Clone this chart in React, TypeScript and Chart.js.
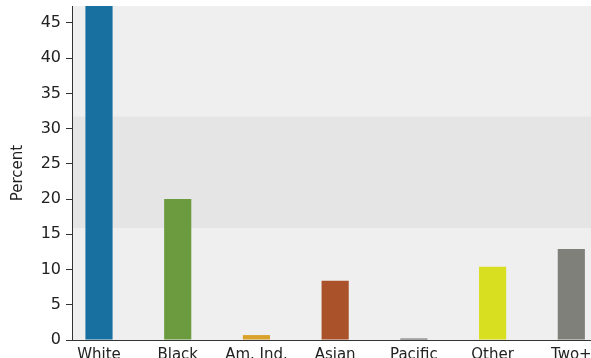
import React, { useEffect, useRef } from "react";
import { Chart, registerables } from "chart.js";

Chart.register(...registerables);

const categories = ["White", "Black", "Am. Ind.", "Asian", "Pacific", "Other", "Two+"];
const percentValues = [47.5, 20.0, 0.7, 8.4, 0.2, 10.4, 12.9];
const barColors = ["#17709f", "#6b9a3f", "#d9a22b", "#aa522a", "#555555", "#d8df20", "#80807a"];
const yTicks = [0, 5, 10, 15, 20, 25, 30, 35, 40, 45];
const bandRange = [15.9, 31.7];

const bgPlugin = {
  id: "bgBand",
  beforeDraw(chart: any) {
    const { ctx, chartArea, scales } = chart;
    if (!chartArea) return;
    ctx.save();
    ctx.fillStyle = "#efefef";
    ctx.fillRect(chartArea.left, chartArea.top, chartArea.right - chartArea.left, chartArea.bottom - chartArea.top);
    const y1 = scales.y.getPixelForValue(bandRange[1]);
    const y0 = scales.y.getPixelForValue(bandRange[0]);
    ctx.fillStyle = "#e5e5e5";
    ctx.fillRect(chartArea.left, y1, chartArea.right - chartArea.left, y0 - y1);
    ctx.restore();
  },
};

export default function App() {
  const ref = useRef<HTMLCanvasElement>(null);
  useEffect(() => {
    if (!ref.current) return;
    const chart = new Chart(ref.current, {
      type: "bar",
      data: {
        datasets: [
          {
            data: percentValues.map((v, i) => ({ x: i, y: v })),
            backgroundColor: barColors,
            barPercentage: 1,
            categoryPercentage: 0.345,
          },
        ],
      },
      options: {
        animation: false,
        responsive: true,
        maintainAspectRatio: false,
        layout: { padding: { top: 6, right: 0, left: 0, bottom: 0 } },
        plugins: { legend: { display: false }, tooltip: { enabled: false } },
        scales: {
          x: {
            type: "linear",
            offset: false,
            min: -0.343,
            max: 6.25,
            grid: { display: false, offset: false },
            border: { display: true, color: "#333", width: 1 },
            afterBuildTicks: (scale: any) => {
              scale.ticks = categories.map((_, i) => ({ value: i }));
            },
            afterFit: (scale: any) => {
              scale.height = 18;
              scale.paddingLeft = 0;
              scale.paddingRight = 0;
            },
            ticks: {
              autoSkip: false,
              maxRotation: 0,
              padding: -2,
              color: "#222",
              font: { family: "DejaVu Sans", size: 15 },
              callback: (v: any) => categories[v] ?? "",
            },
          },
          y: {
            min: 0,
            max: 47.4,
            afterBuildTicks: (scale: any) => {
              scale.ticks = yTicks.map((v) => ({ value: v }));
            },
            afterFit: (scale: any) => {
              scale.width = 72;
              scale.paddingTop = 0;
              scale.paddingBottom = 0;
            },
            grid: { drawOnChartArea: false, drawTicks: true, tickLength: 6, color: "#333" },
            border: { display: true, color: "#333", width: 1 },
            ticks: {
              padding: 5,
              color: "#222",
              font: { family: "DejaVu Sans", size: 16 },
            },
            title: {
              display: true,
              text: "Percent",
              color: "#222",
              font: { family: "DejaVu Sans", size: 15 },
              padding: { top: 9, bottom: 0 },
            },
          },
        },
      },
      plugins: [bgPlugin],
    });
    return () => chart.destroy();
  }, []);
  return (
    <div style={{ position: "absolute", left: 0, top: 0, width: 591, height: 358, background: "#fff" }}>
      <canvas ref={ref} />
    </div>
  );
}
